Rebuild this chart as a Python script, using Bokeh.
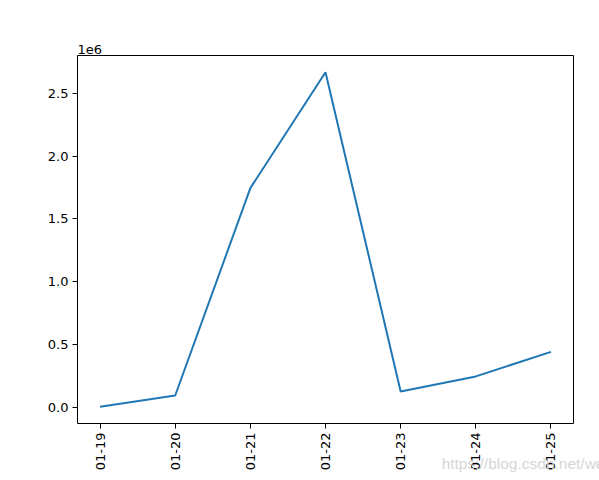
import math
from bokeh.plotting import figure
from bokeh.models import FixedTicker, Range1d
from bokeh.embed import file_html
from bokeh.resources import INLINE

dates = ["01-19", "01-20", "01-21", "01-22", "01-23", "01-24", "01-25"]
values = [3000, 93000, 1746000, 2670000, 125000, 245000, 441000]
ytick_vals = [0, 500000, 1000000, 1500000, 2000000, 2500000]
ytick_labels = ["0.0", "0.5", "1.0", "1.5", "2.0", "2.5"]
watermark = "https://blog.csdn.net/weixin_39190382"

xs = list(range(len(dates)))
ymin, ymax = min(values), max(values)
ypad = (ymax - ymin) * 0.05

p = figure(width=599, height=480, output_backend="svg", toolbar_location=None,
           x_range=Range1d(-0.3, len(dates) - 1 + 0.3),
           y_range=Range1d(ymin - ypad, ymax + ypad),
           min_border_left=77, min_border_right=26, min_border_top=55, min_border_bottom=57)

p.line(xs, values, line_color="#1f77b4", line_width=2)

p.grid.visible = False
p.outline_line_color = "black"
p.outline_line_alpha = 1
p.outline_line_width = 1

FONT = "DejaVu Sans"
for ax in (p.xaxis[0], p.yaxis[0]):
    ax.axis_line_color = None
    ax.major_tick_out = 5
    ax.major_tick_in = 0
    ax.minor_tick_line_color = None
    ax.major_tick_line_color = "black"
    ax.major_label_text_font = FONT
    ax.major_label_text_font_size = "13px"
    ax.major_label_text_color = "black"
    ax.major_label_standoff = 4

p.xaxis.ticker = FixedTicker(ticks=xs)
p.xaxis.major_label_overrides = {i: d for i, d in enumerate(dates)}
p.xaxis.major_label_orientation = math.pi / 2

p.yaxis.ticker = FixedTicker(ticks=ytick_vals)
p.yaxis.major_label_overrides = {v: l for v, l in zip(ytick_vals, ytick_labels)}

# watermark drawn as the x-axis label, overlapping the tick labels
xa = p.xaxis[0]
xa.axis_label = watermark
xa.axis_label_text_font = "Liberation Sans"
xa.axis_label_text_font_size = "15.5px"
xa.axis_label_text_font_style = "normal"
xa.axis_label_text_color = "#d6d6d6"
xa.axis_label_standoff = -18
xa.axis_label_align = "end"
xa.axis_label_text_align = "right"

p.title.text = "1e6"
p.title.text_font = FONT
p.title.text_font_size = "13px"
p.title.text_font_style = "normal"
p.title.text_color = "black"
p.title.align = "left"
p.title.offset = 0
p.title.standoff = 4

p.background_fill_color = "white"
p.border_fill_color = "white"

open("out.html", "w").write(file_html(p, INLINE))
